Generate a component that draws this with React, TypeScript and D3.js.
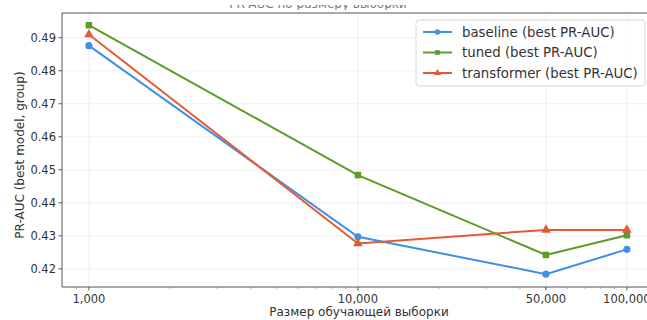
import { useEffect, useRef } from 'react';
import * as d3 from 'd3';

// sample sizes (x, log scale)
const sizes = [1000, 10000, 50000, 100000];
const xTickLabels = ['1,000', '10,000', '50,000', '100,000'];
const yTicks = [0.42, 0.43, 0.44, 0.45, 0.46, 0.47, 0.48, 0.49];

// PR-AUC values
const baseline = [0.4876, 0.4297, 0.4184, 0.4259];
const tuned = [0.4938, 0.4484, 0.4242, 0.4302];
const transformer = [0.4910, 0.4277, 0.4318, 0.4318];

const seriesNames = ['baseline (best PR-AUC)', 'tuned (best PR-AUC)', 'transformer (best PR-AUC)'];
const seriesColors = ['#3f8fe3', '#5a9c26', '#e55a34'];
const seriesMarkers = ['circle', 'square', 'triangle'];

const W = 647, H = 320;

const symbolFor = (m: string) =>
  m === 'circle' ? d3.symbolCircle : m === 'square' ? d3.symbolSquare : d3.symbolTriangle;

const App = () => {
  const svgRef = useRef<SVGSVGElement>(null);

  useEffect(() => {
    const svg = d3.select(svgRef.current);
    svg.selectAll('*').remove();
    const font = 'DejaVu Sans, sans-serif';

    const left = 62, top = 13, bottom = 287;
    const x = d3.scaleLog().domain([Math.pow(10, 2.9), Math.pow(10, 5.1)]).range([left, left + 2.2 * 269]);
    const y = d3.scaleLinear().domain([0.4145, 0.4975]).range([bottom, top]);
    const right = x.range()[1];

    // title: only its lower edge survives the crop
    svg.append('clipPath').attr('id', 'titleClip')
      .append('rect').attr('x', 0).attr('y', 5).attr('width', W).attr('height', 5);
    svg.append('text')
      .attr('clip-path', 'url(#titleClip)')
      .attr('x', 318).attr('y', 8)
      .attr('text-anchor', 'middle')
      .attr('font-family', font).attr('font-size', '12px').attr('fill', '#777')
      .text('PR-AUC по размеру выборки');

    svg.append('rect')
      .attr('x', left).attr('y', top).attr('width', right - left).attr('height', bottom - top)
      .attr('fill', '#fff');

    // grid
    const grid = svg.append('g').attr('stroke', '#ebebeb').attr('stroke-width', 0.8);
    yTicks.forEach(t => {
      grid.append('line').attr('x1', left).attr('x2', right).attr('y1', y(t)).attr('y2', y(t));
    });
    sizes.forEach(t => {
      grid.append('line').attr('x1', x(t)).attr('x2', x(t)).attr('y1', top).attr('y2', bottom);
    });

    // series
    const all = [baseline, tuned, transformer];
    all.forEach((vals, i) => {
      const pts = sizes.map((s, j) => [x(s), y(vals[j])] as [number, number]);
      svg.append('path')
        .attr('d', d3.line()(pts))
        .attr('fill', 'none')
        .attr('stroke', seriesColors[i])
        .attr('stroke-width', 2);
      const sym = symbolFor(seriesMarkers[i]);
      const size = seriesMarkers[i] === 'square' ? 42 : 40;
      pts.forEach(p => {
        svg.append('path')
          .attr('d', d3.symbol().type(sym).size(size)())
          .attr('transform', `translate(${p[0]},${p[1]})`)
          .attr('fill', seriesColors[i]);
      });
    });

    // spines
    svg.append('path')
      .attr('d', `M${right},${top}H${left}V${bottom}H${right}`)
      .attr('stroke', '#555').attr('stroke-width', 1).attr('fill', 'none');

    // y ticks
    yTicks.forEach(t => {
      svg.append('line').attr('x1', left - 3.5).attr('x2', left).attr('y1', y(t)).attr('y2', y(t))
        .attr('stroke', '#555');
      svg.append('text')
        .attr('x', left - 6).attr('y', y(t)).attr('dy', '0.35em')
        .attr('text-anchor', 'end')
        .attr('font-family', font).attr('font-size', '11.5px').attr('fill', '#333')
        .text(d3.format('.2f')(t));
    });

    // x minor ticks
    const minor: number[] = [900];
    [1000, 10000].forEach(dec => { for (let k = 2; k <= 9; k++) minor.push(dec * k); });
    minor.forEach(m => {
      svg.append('line').attr('x1', x(m)).attr('x2', x(m)).attr('y1', bottom).attr('y2', bottom + 2)
        .attr('stroke', '#777').attr('stroke-width', 0.6);
    });
    sizes.forEach((s, i) => {
      svg.append('line').attr('x1', x(s)).attr('x2', x(s)).attr('y1', bottom).attr('y2', bottom + 3.5)
        .attr('stroke', '#555');
      svg.append('text')
        .attr('x', x(s)).attr('y', bottom + 16)
        .attr('text-anchor', 'middle')
        .attr('font-family', font).attr('font-size', '11.5px').attr('fill', '#333')
        .text(xTickLabels[i]);
    });

    // axis labels
    svg.append('text')
      .attr('x', 359).attr('y', 316)
      .attr('text-anchor', 'middle')
      .attr('font-family', font).attr('font-size', '12px').attr('fill', '#333')
      .text('Размер обучающей выборки');
    svg.append('text')
      .attr('transform', `translate(24,${(top + bottom) / 2 + 5}) rotate(-90)`)
      .attr('text-anchor', 'middle')
      .attr('font-family', font).attr('font-size', '12px').attr('fill', '#333')
      .text('PR-AUC (best model, group)');

    // legend
    const lg = svg.append('g');
    lg.append('rect')
      .attr('x', 416).attr('y', 20).attr('width', 229).attr('height', 66).attr('rx', 3)
      .attr('fill', '#fff').attr('fill-opacity', 0.85)
      .attr('stroke', '#d6d6d6');
    seriesNames.forEach((name, i) => {
      const ly = 32 + i * 20.5;
      lg.append('line').attr('x1', 423).attr('x2', 452).attr('y1', ly).attr('y2', ly)
        .attr('stroke', seriesColors[i]).attr('stroke-width', 2);
      lg.append('path')
        .attr('d', d3.symbol().type(symbolFor(seriesMarkers[i])).size(22)())
        .attr('transform', `translate(437.5,${ly})`)
        .attr('fill', seriesColors[i]);
      lg.append('text')
        .attr('x', 462).attr('y', ly).attr('dy', '0.35em')
        .attr('font-family', font).attr('font-size', '13.3px').attr('fill', '#333')
        .text(name);
    });
  }, []);

  return (
    <div style={{ position: 'absolute', left: 0, top: 0 }}>
      <svg ref={svgRef} width={W} height={H} style={{ display: 'block', background: '#fff' }} />
    </div>
  );
};

export default App;
